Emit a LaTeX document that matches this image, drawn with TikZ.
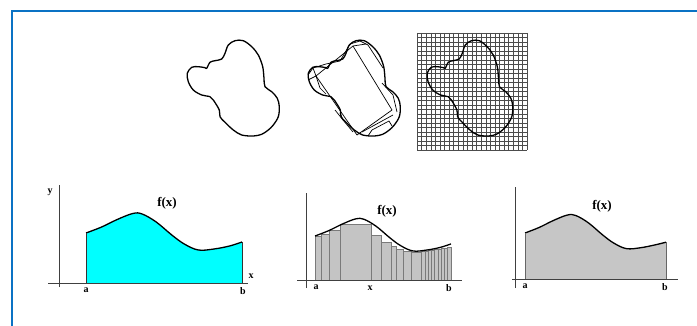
\documentclass[tikz,border=0pt]{standalone}
\usepackage{fontspec}
\setmainfont{Liberation Serif}
\definecolor{frameblue}{HTML}{0A72C4}
\definecolor{areacyan}{HTML}{00FFFF}
\definecolor{areagray}{HTML}{C6C6C6}
\definecolor{bargray}{HTML}{C4C4C4}
\definecolor{baredge}{HTML}{7A7A7A}
\begin{document}
\begin{tikzpicture}[x=1pt,y=-1pt,
  outline/.style={line width=1.3pt, black, line join=round},
  thinline/.style={line width=0.7pt, black, line join=round},
  axisline/.style={line width=0.9pt, black!75},
  gridline/.style={line width=0.45pt, black!70},
  fxlabel/.style={font=\bfseries\fontsize{13}{13}\selectfont, inner sep=0pt},
  axlabel/.style={font=\bfseries\fontsize{10}{10}\selectfont, inner sep=0pt},
  blob/.pic={\draw[outline] plot[smooth cycle, tension=0.55] coordinates {
    (206.7,68.3) (210,62.3) (215,60.7) (221.7,59) (225,53.3) (228.3,45)
    (235,40.7) (243.3,40.7) (251.7,46.7) (258.3,55) (262.7,66.7) (264,78.3)
    (265,86.7) (271.7,91.7) (277.3,98.3) (279.3,106.7) (278.3,116.7)
    (273.3,125) (268.3,130) (261.7,134.3) (253.3,136) (241.7,135) (233.3,130)
    (225,122.3) (220,116.7) (219.3,110) (213.3,100) (210,96.7) (201.7,95)
    (193.3,90) (188.3,81.7) (187.3,73.3) (191.7,67.3) (198.3,66.7) (205,67.7)};}
]
\useasboundingbox (0,0) rectangle (697,326);
% frame
\draw[frameblue, line width=2pt] (12,326) -- (12,11) -- (697,11);

% ---------- top row ----------
\pic (blobA) at (0,0) {blob};
\pic (blobB) at (121,0) {blob};
% inscribed polygons in blob B
\draw[thinline] (316,76) -- (353,46) -- (392,110) -- (357,135) -- cycle;
\draw[thinline] (362,132) -- (393,115);
\draw[thinline] (368,136) -- (372,130) -- (389,121) -- (392,126);
\draw[thinline] (308,75) -- (313,68) -- (326,64) -- (340,61) -- (343,56);
\draw[thinline] (313,68) -- (316,76) -- (308,80);
\draw[thinline] (316,76) -- (320,88) -- (326,94);
\draw[thinline] (343,56) -- (350,44) -- (360,41) -- (368,45) -- (383,68);
\draw[thinline] (353,46) -- (366,44);
\draw[thinline] (382,83) -- (393,95) -- (397,112);
\draw[thinline] (335,110) -- (343,120) -- (353,132);
\draw[thinline] (343,120) -- (340,113);

% grid with blob C
\foreach \i in {0,...,24} \draw[gridline] ({417+\i*4.583},33) -- ({417+\i*4.583},150);
\foreach \j in {0,...,26} \draw[gridline] (417,{33+\j*4.5}) -- (527,{33+\j*4.5});
\pic[xscale=0.93] (blobC) at (253,0) {blob};

% ---------- graph 1 ----------
\begin{scope}[shift={(86,283)}, xscale=156, yscale=-50]
  \fill[areacyan] (0,0) -- plot[smooth, tension=0.6] coordinates {(0,1) (0.1,1.12) (0.2,1.27) (0.3,1.39) (0.36,1.38) (0.45,1.22) (0.55,0.96) (0.63,0.78) (0.72,0.66) (0.82,0.68) (0.92,0.74) (1,0.82)} -- (1,0) -- cycle;
  \draw[outline] plot[smooth, tension=0.6] coordinates {(0,1) (0.1,1.12) (0.2,1.27) (0.3,1.39) (0.36,1.38) (0.45,1.22) (0.55,0.96) (0.63,0.78) (0.72,0.66) (0.82,0.68) (0.92,0.74) (1,0.82)};
  \draw[line width=0.6pt, black!80] (0,0) -- (0,1) (1,0) -- (1,0.82);
\end{scope}
\coordinate (g1y0) at (59,287); \coordinate (g1y1) at (59,185);
\coordinate (g1x0) at (48,283); \coordinate (g1x1) at (248,283);
\draw[axisline] (g1y0) -- (g1y1);
\draw[axisline] (g1x0) -- (g1x1);
\node[axlabel] (g1ly) at (50,192) {y};
\node[axlabel] (g1lx) at (251,276) {x};
\node[axlabel] (g1la) at (86,290) {a};
\node[axlabel] (g1lb) at (243,291) {b};
\node[fxlabel] (g1f) at (167,203) {f(x)};

% ---------- graph 2 ----------
\begin{scope}[shift={(315,280)}, xscale=136, yscale=-44]
  \foreach \xa/\xb/\h in {0/0.049/1.0, 0.049/0.105/1.04, 0.105/0.189/1.14,
      0.189/0.417/1.27, 0.417/0.485/1.02, 0.485/0.559/0.85, 0.559/0.601/0.76,
      0.601/0.649/0.70, 0.649/0.711/0.66, 0.711/0.784/0.64,
      0.784/0.808/0.65, 0.808/0.832/0.66, 0.832/0.856/0.67, 0.856/0.880/0.68,
      0.880/0.904/0.69, 0.904/0.928/0.70, 0.928/0.952/0.72, 0.952/0.976/0.73,
      0.976/1/0.75}
    \filldraw[fill=bargray, draw=baredge, line width=0.6pt] (\xa,0) rectangle (\xb,\h);
  \draw[outline] plot[smooth, tension=0.6] coordinates {(0,1) (0.1,1.12) (0.2,1.27) (0.3,1.39) (0.36,1.38) (0.45,1.22) (0.55,0.96) (0.63,0.78) (0.72,0.66) (0.82,0.68) (0.92,0.74) (1,0.82)};
\end{scope}
\coordinate (g2y0) at (306,288); \coordinate (g2y1) at (306,193);
\coordinate (g2x0) at (297,280); \coordinate (g2x1) at (462,280);
\draw[axisline] (g2y0) -- (g2y1);
\draw[axisline] (g2x0) -- (g2x1);
\node[axlabel] (g2la) at (316,287) {a};
\node[axlabel] (g2lx) at (370,288) {x};
\node[axlabel] (g2lb) at (449,288) {b};
\node[fxlabel] (g2f) at (387,211) {f(x)};

% ---------- graph 3 ----------
\begin{scope}[shift={(525,279)}, xscale=141, yscale=-46]
  \fill[areagray] (0,0) -- plot[smooth, tension=0.6] coordinates {(0,1) (0.1,1.12) (0.2,1.27) (0.3,1.39) (0.36,1.38) (0.45,1.22) (0.55,0.96) (0.63,0.78) (0.72,0.66) (0.82,0.68) (0.92,0.74) (1,0.80)} -- (1,0) -- cycle;
  \draw[outline] plot[smooth, tension=0.6] coordinates {(0,1) (0.1,1.12) (0.2,1.27) (0.3,1.39) (0.36,1.38) (0.45,1.22) (0.55,0.96) (0.63,0.78) (0.72,0.66) (0.82,0.68) (0.92,0.74) (1,0.80)};
  \draw[line width=0.6pt, black!60] (0,0) -- (0,1) (1,0) -- (1,0.80);
\end{scope}
\coordinate (g3y0) at (515,288); \coordinate (g3y1) at (515,187);
\coordinate (g3x0) at (512,279); \coordinate (g3x1) at (678,279);
\draw[axisline] (g3y0) -- (g3y1);
\draw[axisline] (g3x0) -- (g3x1);
\node[axlabel] (g3la) at (525,286) {a};
\node[axlabel] (g3lb) at (665,287) {b};
\node[fxlabel] (g3f) at (602,206) {f(x)};
\end{tikzpicture}
\end{document}
